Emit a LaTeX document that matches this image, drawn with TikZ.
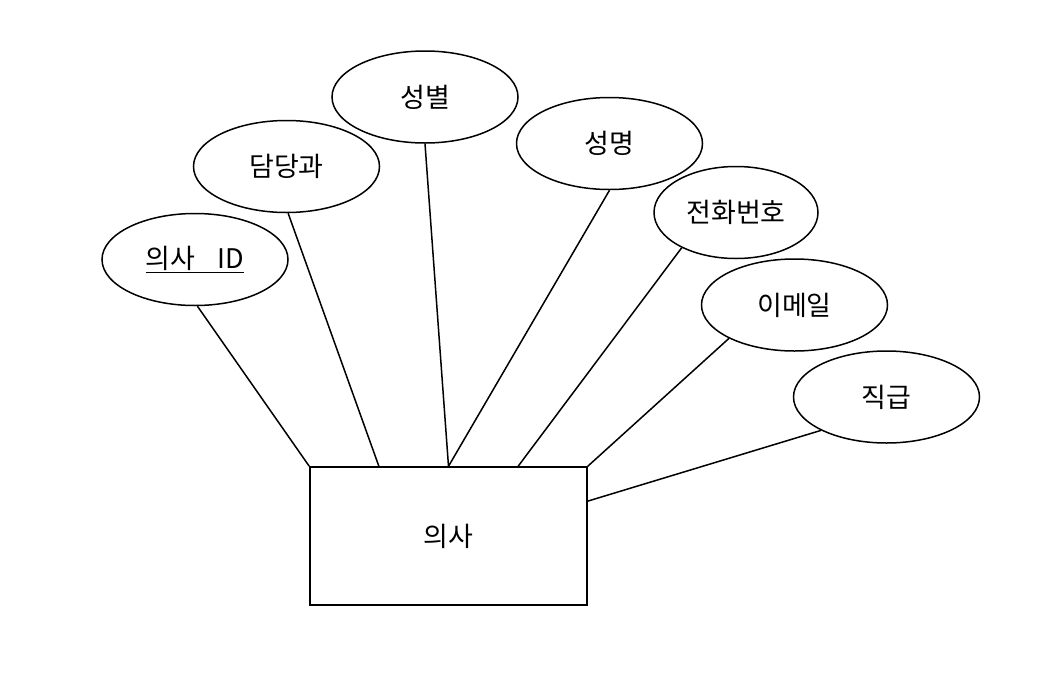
\documentclass[tikz,border=0pt]{standalone}
\usepackage{fontspec}
\setmainfont{Noto Sans CJK KR}
\usetikzlibrary{shapes,calc}

\begin{document}
\begin{tikzpicture}[x=1pt,y=-1pt,line width=1.5pt,
                    font=\fontsize{27}{32}\selectfont]
\tikzstyle{attr}=[ellipse,draw=black,minimum width=186pt,minimum height=92pt,inner sep=0pt]
\tikzstyle{ent}=[rectangle,draw=black,minimum width=277pt,minimum height=138pt]
\useasboundingbox (0,0) rectangle (1050,694);
% entity
\node[ent] (uisa) at (448.5,536) {의사};
% attributes
\node[attr] (id) at (195,259.5) {\underline{의사\hspace{22pt}ID}};
\node[attr] (dept) at (286.5,166.5) {담당과};
\node[attr] (gender) at (425,97) {성별};
\node[attr] (name) at (609.5,143.5) {성명};
\node[attr,minimum width=164pt] (phone) at (736,212.5) {전화번호};
\node[attr] (email) at (794.5,305) {이메일};
\node[attr] (rank) at (886.5,397) {직급};
% links
\draw (id.-87) -- (uisa.north west);
\draw (dept.-88) -- ($(uisa.north west)!0.25!(uisa.north east)$);
\draw (gender.-90) -- (uisa.north);
\draw (name.-90) -- (uisa.north);
\draw (phone.-147.6) -- ($(uisa.north west)!0.75!(uisa.north east)$);
\draw (email.-153.6) -- (uisa.north east);
\draw (rank.-153) -- ($(uisa.north east)!0.25!(uisa.south east)$);
\end{tikzpicture}
\end{document}
